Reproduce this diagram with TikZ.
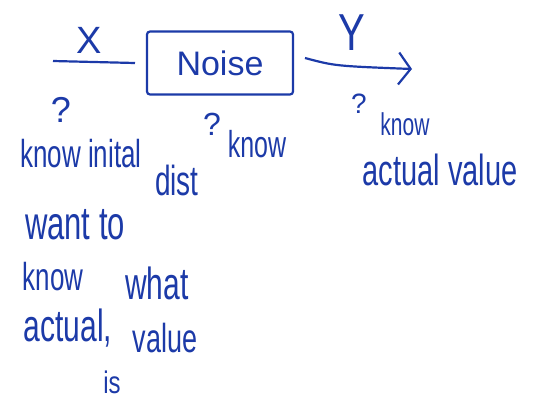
\documentclass[tikz,border=0pt]{standalone}
\usepackage{fontspec}
\setmainfont{Liberation Sans}
\usetikzlibrary{arrows.meta}
\definecolor{ink}{RGB}{28,58,168}
\newcommand{\fsz}[1]{\fontsize{#1}{#1}\selectfont}

\begin{document}
\begin{tikzpicture}[x=1pt,y=-1pt,inner sep=0pt,outer sep=0pt,line width=2.2pt,draw=ink,
>={Straight Barb[length=12pt,width=32pt]},
lbl/.style={text=ink,inner sep=0pt},
tall/.style={lbl,yscale=1.5,transform shape},
sysblock/.style={draw,rectangle,rounded corners=3pt,minimum width=146pt,minimum height=63pt,text=ink}]
\useasboundingbox (0,0) rectangle (546,405);
% channel
\draw (220,63) node[sysblock,font=\fsz{34}] (noise) {Noise};
\draw (53,61) coordinate (xin);
\draw (412,69) coordinate (yend);
\draw (xin) -- ([xshift=-12pt]noise.west);
\draw[->] ([shift={(12,-5)}]noise.east) .. controls (335,66) .. (yend);
\draw (89,40) node[lbl,font=\fsz{38}] (xlab) {X};
\draw (352,33) node[lbl,yscale=1.3,transform shape,font=\fsz{40}] (ylab) {Y};

% under the input
\draw (61,110) node[lbl,font=\fsz{36}] (qx) {?};
\draw (81,154) node[tall,font=\fsz{26}] (kinit) {know inital};
\draw (177,180) node[tall,font=\fsz{28}] (dist) {dist};
\draw (75,225) node[tall,font=\fsz{31}] (want) {want to};
\draw (53,277) node[tall,font=\fsz{26}] (know) {know};
\draw (157,283) node[tall,font=\fsz{30}] (what) {what};
\draw (68,328) node[tall,font=\fsz{30}] (actual) {actual,};
\draw (165,338) node[tall,font=\fsz{27}] (value) {value};
\draw (112,382) node[lbl,yscale=1.3,transform shape,font=\fsz{24}] (is) {is};

% under the box
\draw (212,124) node[lbl,font=\fsz{32}] (qn) {?};
\draw (257,144) node[tall,font=\fsz{25}] (kn) {know};

% under the output
\draw (359,104) node[lbl,font=\fsz{28}] (qy) {?};
\draw (405,124) node[tall,font=\fsz{21}] (ky) {know};
\draw (440,170) node[tall,font=\fsz{29}] (actval) {actual value};
\end{tikzpicture}
\end{document}
